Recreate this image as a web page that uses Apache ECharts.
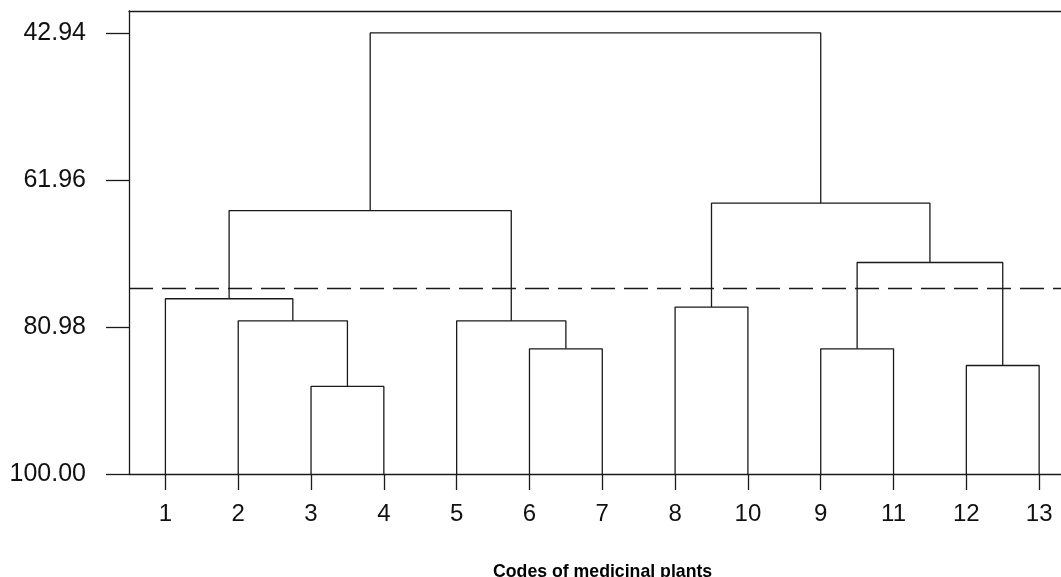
<!DOCTYPE html>
<html>
<head>
<meta charset="utf-8">
<script src="https://cdn.jsdelivr.net/npm/echarts@6/dist/echarts.min.js"></script>
<style>
  html, body { margin: 0; padding: 0; background: #fff; }
  #chart { width: 1061px; height: 577px; }
</style>
</head>
<body>
<div id="chart"></div>
<script>
// leaf order along the x axis
const leafLabels = ['1', '2', '3', '4', '5', '6', '7', '8', '10', '9', '11', '12', '13']
// merges: ids 0..12 are leaves, merge k gets id 13 + k
const mergeLeft = [2, 1, 0, 5, 4, 15, 7, 9, 11, 20, 19, 18]
const mergeRight = [3, 13, 14, 6, 16, 17, 8, 10, 12, 21, 22, 23]
const mergeHeight = [88.67, 80.18, 77.33, 83.80, 80.18, 65.92, 78.41, 83.80, 85.96, 72.64, 64.96, 42.94]
const yTicks = [42.94, 61.96, 80.98, 100.00]
const cutLevel = 75.91
const leafLevel = 100

const ink = '#1a1a1a'
const font = 'Liberation Sans, Arial, sans-serif'

// node positions: leaves sit at their index, merges at the middle of their children
const nodeX = leafLabels.map((_, i) => i)
const nodeY = leafLabels.map(() => leafLevel)
mergeHeight.forEach((h, k) => {
    nodeX.push((nodeX[mergeLeft[k]] + nodeX[mergeRight[k]]) / 2)
    nodeY.push(h)
})

const series = mergeHeight.map((h, k) => {
    const a = mergeLeft[k]
    const b = mergeRight[k]
    return {
        type: 'line',
        symbol: 'none',
        silent: true,
        lineStyle: { color: ink, width: 1.3 },
        data: [
            [nodeX[a], nodeY[a]],
            [nodeX[a], h],
            [nodeX[b], h],
            [nodeX[b], nodeY[b]]
        ]
    }
})

series[0].markLine = {
    silent: true,
    symbol: 'none',
    label: { show: false },
    lineStyle: { color: ink, width: 1.3, type: [24, 9] },
    data: [{ yAxis: cutLevel }]
}

const leafTicks = leafLabels.map((_, i) => i)

const chart = echarts.init(document.getElementById('chart'), null, { renderer: 'canvas' })
chart.setOption({
    animation: false,
    backgroundColor: '#fff',
    title: {
        text: 'Codes of medicinal plants',
        left: 488,
        top: 558,
        textStyle: { fontFamily: font, fontSize: 17.7, fontWeight: 'bold', color: '#000' }
    },
    grid: { left: 129, top: 11, right: 0, bottom: 103 },
    xAxis: [{
        type: 'value',
        min: -0.5,
        max: 12.3, // right edge of the picture cuts the plot before the last half step
        axisLine: { onZero: false, lineStyle: { color: ink, width: 1.3 } },
        axisTick: { length: 16, lineStyle: { color: ink, width: 1.3 }, customValues: leafTicks },
        axisLabel: {
            customValues: leafTicks,
            formatter: v => leafLabels[Math.round(v)],
            fontFamily: font, fontSize: 24, color: '#111', margin: 28
        },
        splitLine: { show: false }
    }, {
        // top frame line only
        type: 'value',
        position: 'top',
        min: -0.5,
        max: 12.3,
        axisLine: { onZero: false, lineStyle: { color: ink, width: 1.3 } },
        axisTick: { show: false },
        axisLabel: { show: false },
        splitLine: { show: false }
    }],
    yAxis: {
        type: 'value',
        inverse: true,
        min: 40.1,
        max: 100,
        axisLine: { show: true, onZero: false, lineStyle: { color: ink, width: 1.3 } },
        axisTick: { show: true, length: 23, lineStyle: { color: ink, width: 1.3 }, customValues: yTicks },
        axisLabel: {
            customValues: yTicks,
            formatter: v => v.toFixed(2),
            fontFamily: font, fontSize: 25, color: '#111', margin: 43
        },
        splitLine: { show: false }
    },
    series: series
})
</script>
</body>
</html>
